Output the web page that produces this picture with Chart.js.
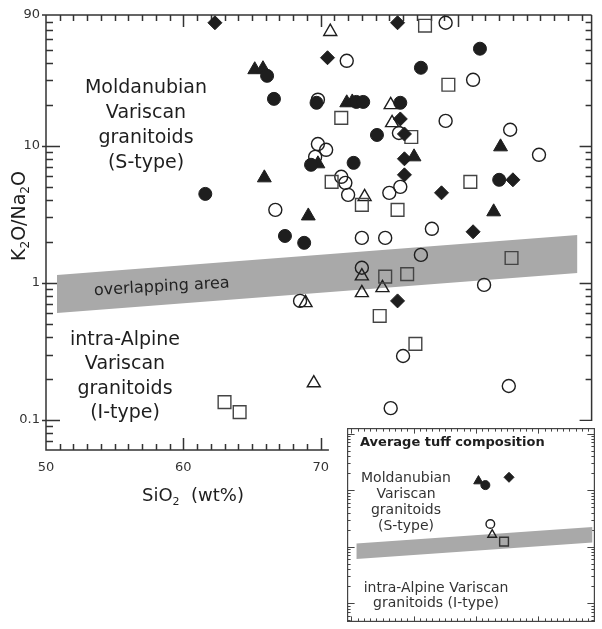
<!DOCTYPE html>
<html>
<head>
<meta charset="utf-8">
<script src="https://cdn.jsdelivr.net/npm/chart.js@4.4.1/dist/chart.umd.min.js"></script>
<style>
  html, body { margin: 0; padding: 0; background: #fff; }
  #wrap { position: relative; width: 602px; height: 629px; }
  #main { position: absolute; left: 0; top: 0; }
  #inset { position: absolute; left: 340px; top: 421px; }
</style>
</head>
<body>
<div id="wrap">
  <canvas id="main" width="602" height="629" style="width:602px;height:629px"></canvas>
  <canvas id="inset" width="262" height="208" style="width:262px;height:208px"></canvas>
</div>
<script>
// SiO2 (wt%), K2O/Na2O pairs
const filledCircles = [[66.1,32.4],[66.6,22.0],[69.7,20.6],[72.6,20.9],[73.1,20.9],[75.8,20.6],[81.6,51.1],[77.3,37.1],
  [74.1,12.0],[69.3,7.27],[72.4,7.51],[61.6,4.46],[83.0,5.65],[67.4,2.20],[68.8,1.96]];
const filledTriangles = [[65.2,35.9],[65.8,36.5],[71.9,20.6],[72.3,20.9],[65.9,5.84],[69.8,7.39],[76.8,8.31],
  [83.1,9.83],[69.1,3.08],[82.6,3.30]];
const filledDiamonds = [[62.3,79.0],[70.5,43.9],[75.6,79.0],[75.8,15.7],[76.1,12.2],[76.1,8.04],[76.1,6.14],
  [78.8,4.54],[84.0,5.65],[81.1,2.36],[75.6,0.739]];
const openCircles = [[71.9,41.7],[79.1,79.0],[81.1,30.3],[69.8,21.7],[79.1,15.2],[75.7,12.4],[83.8,13.1],[85.9,8.60],
  [69.8,10.3],[70.4,9.35],[69.6,8.31],[71.5,5.94],[71.8,5.37],[72.0,4.39],[75.0,4.54],[75.8,5.02],[66.7,3.41],
  [73.0,2.13],[74.7,2.13],[78.1,2.48],[77.3,1.60],[73.0,1.29],[81.9,0.967],[68.5,0.739],[76.0,0.293],[75.1,0.122],[83.7,0.177]];
const openTriangles = [[70.7,68.0],[75.1,19.9],[75.2,14.7],[73.2,4.24],[73.0,1.12],[73.0,0.845],[74.5,0.920],
  [68.9,0.715],[69.5,0.186]];
const openSquares = [[77.6,75.2],[79.3,27.9],[71.5,16.0],[76.6,11.6],[70.8,5.46],[80.9,5.46],[73.0,3.71],[75.6,3.41],
  [83.9,1.52],[76.3,1.16],[74.7,1.11],[74.3,0.574],[76.9,0.359],[63.0,0.135],[64.1,0.114]];

// overlapping area band (upper and lower edge)
const bandTop = [[50.8,1.14],[88.7,2.24]];
const bandBottom = [[50.8,0.604],[88.7,1.18]];

// inset: average tuff composition
const tuffFilledTriangle = [[70.4,14.5]];
const tuffFilledCircle = [[71.5,12.3]];
const tuffDiamond = [[75.3,16.9]];
const tuffOpenCircle = [[72.3,2.52]];
const tuffOpenTriangle = [[72.6,1.63]];
const tuffOpenSquare = [[74.5,1.23]];

const xTicks = [50, 60, 70];
const yTicks = [0.1, 1, 10, 90];

Chart.defaults.font.family = 'DejaVu Sans';
const INK = '#1e1e1e';

const pts = arr => arr.map(([x, y]) => ({ x, y }));

function series(data, style, filled, r, color) {
  return {
    data: pts(data),
    pointStyle: style,
    pointRadius: r,
    pointHoverRadius: r,
    pointBackgroundColor: filled ? color : 'rgba(0,0,0,0)',
    pointBorderColor: color,
    pointBorderWidth: filled ? 1 : 1.4,
    showLine: false,
    clip: false
  };
}

function band(top, bottom) {
  return [
    { data: pts(top), showLine: true, borderWidth: 0, pointRadius: 0, fill: false, order: 10 },
    { data: pts(bottom), showLine: true, borderWidth: 0, pointRadius: 0, fill: '-1',
      backgroundColor: '#a9a9a9', order: 10 }
  ];
}

// text with subscripts: parts = [[text, isSub], ...]
function richText(ctx, parts, x, y, size) {
  const big = size + 'px DejaVu Sans', small = Math.round(size * 0.62) + 'px DejaVu Sans';
  let w = 0;
  parts.forEach(([t, sub]) => { ctx.font = sub ? small : big; w += ctx.measureText(t).width; });
  let cx = x - w / 2;
  ctx.textAlign = 'left';
  ctx.textBaseline = 'middle';
  parts.forEach(([t, sub]) => {
    ctx.font = sub ? small : big;
    ctx.fillText(t, cx, sub ? y + size * 0.32 : y);
    cx += ctx.measureText(t).width;
  });
}

function lines(ctx, list, x, y0, step, font) {
  ctx.font = font;
  ctx.textAlign = 'center';
  ctx.textBaseline = 'middle';
  list.forEach((t, i) => ctx.fillText(t, x, y0 + i * step));
}

const mainFrame = {
  id: 'mainFrame',
  beforeDatasetsDraw(chart) {
    const { ctx, chartArea: a, scales: { x, y } } = chart;
    ctx.save();
    ctx.strokeStyle = '#333';
    ctx.lineWidth = 1.5;
    const xEnd = x.getPixelForValue(70.6);
    ctx.beginPath();
    ctx.moveTo(a.left, a.top); ctx.lineTo(a.right, a.top);
    ctx.moveTo(a.left, a.top); ctx.lineTo(a.left, a.bottom); ctx.lineTo(xEnd, a.bottom);
    ctx.moveTo(a.right, a.top); ctx.lineTo(a.right, a.bottom);
    for (let v = 51; v < x.max; v++) {
      const px = Math.round(x.getPixelForValue(v)) + 0.5;
      const len = v % 10 === 0 ? 12 : 6;
      ctx.moveTo(px, a.top); ctx.lineTo(px, a.top + len);
      if (v <= 70) { ctx.moveTo(px, a.bottom); ctx.lineTo(px, a.bottom - len); }
    }
    ctx.moveTo(a.left - 4, a.top); ctx.lineTo(a.left, a.top);
    for (let d = -2; d <= 1; d++) {
      for (let m = 1; m <= 9; m++) {
        const v = m * Math.pow(10, d);
        if (v <= y.min || v >= y.max) continue;
        const py = Math.round(y.getPixelForValue(v)) + 0.5;
        const major = m === 1;
        ctx.moveTo(a.left - (major ? 4 : 0), py); ctx.lineTo(a.left + (major ? 14 : 7), py);
        ctx.moveTo(a.right, py); ctx.lineTo(a.right - (major ? 12 : 6), py);
      }
    }
    ctx.stroke();

    ctx.fillStyle = INK;
    lines(ctx, ['Moldanubian', 'Variscan', 'granitoids', '(S-type)'], 146, 88, 25, '19px DejaVu Sans');
    lines(ctx, ['intra-Alpine', 'Variscan', 'granitoids', '(I-type)'], 125, 340, 24.5, '19px DejaVu Sans');

    // axis titles
    richText(ctx, [['SiO', false], ['2', true], ['  (wt%)', false]], 193, 496, 18);
    ctx.save();
    ctx.translate(20, 216);
    ctx.rotate(-Math.PI / 2);
    richText(ctx, [['K', false], ['2', true], ['O/Na', false], ['2', true], ['O', false]], 0, 0, 19);
    ctx.restore();
    ctx.restore();
  },
  afterDatasetsDraw(chart) {
    const { ctx } = chart;
    ctx.save();
    ctx.fillStyle = '#222';
    ctx.translate(94, 291);
    ctx.rotate(-3.3 * Math.PI / 180);
    ctx.font = '16px DejaVu Sans';
    ctx.textAlign = 'left';
    ctx.textBaseline = 'middle';
    ctx.fillText('overlapping area', 0, 0);
    ctx.restore();
  }
};

new Chart(document.getElementById('main'), {
  type: 'scatter',
  data: {
    datasets: [
      series(filledCircles, 'circle', true, 6.5, INK),
      series(filledTriangles, 'triangle', true, 8, INK),
      series(filledDiamonds, 'rectRot', true, 7, INK),
      series(openSquares, 'rect', false, 9, '#444'),
      series(openTriangles, 'triangle', false, 7.5, INK),
      series(openCircles, 'circle', false, 6.5, INK),
      ...band(bandTop, bandBottom)
    ]
  },
  options: {
    responsive: false,
    animation: false,
    events: [],
    layout: { padding: { top: 15, right: 1, left: 0, bottom: 0 } },
    plugins: { legend: { display: false }, tooltip: { enabled: false } },
    scales: {
      x: {
        type: 'linear', min: 50, max: 89.73,
        afterBuildTicks: s => { s.ticks = xTicks.map(v => ({ value: v })); },
        afterFit: s => { s.height = 179; },
        grid: { display: false, drawTicks: false }, border: { display: false },
        ticks: { color: '#333', font: { size: 13 }, padding: 10, callback: v => String(v) }
      },
      y: {
        type: 'logarithmic', min: 0.0604, max: 90,
        afterBuildTicks: s => { s.ticks = yTicks.map(v => ({ value: v })); },
        afterFit: s => { s.width = 46; },
        grid: { display: false, drawTicks: false }, border: { display: false },
        ticks: { color: '#333', font: { size: 13 }, padding: 6, callback: v => String(v) }
      }
    }
  },
  plugins: [mainFrame]
});

const insetFrame = {
  id: 'insetFrame',
  beforeDraw(chart) {
    const { ctx, width, height } = chart;
    ctx.save();
    ctx.fillStyle = '#fff';
    ctx.fillRect(0, 0, width, height);
    ctx.restore();
  },
  beforeDatasetsDraw(chart) {
    const { ctx, chartArea: a, scales: { x, y } } = chart;
    ctx.save();
    ctx.strokeStyle = '#444';
    ctx.lineWidth = 1.2;
    ctx.strokeRect(a.left, a.top, a.right - a.left, a.bottom - a.top);
    ctx.lineWidth = 1;
    ctx.beginPath();
    for (let v = Math.ceil(x.min); v < x.max; v++) {
      const px = Math.round(x.getPixelForValue(v)) + 0.5;
      const len = v % 10 === 0 ? 5 : 3;
      ctx.moveTo(px, a.top); ctx.lineTo(px, a.top + len);
      ctx.moveTo(px, a.bottom); ctx.lineTo(px, a.bottom - len);
    }
    for (let d = -2; d <= 2; d++) {
      for (let m = 1; m <= 9; m++) {
        const v = m * Math.pow(10, d);
        if (v <= y.min || v >= y.max) continue;
        const py = Math.round(y.getPixelForValue(v)) + 0.5;
        const len = m === 1 ? 7 : 3;
        ctx.moveTo(a.left, py); ctx.lineTo(a.left + len, py);
        ctx.moveTo(a.right, py); ctx.lineTo(a.right - len, py);
      }
    }
    ctx.stroke();

    ctx.fillStyle = INK;
    ctx.font = 'bold 13px DejaVu Sans';
    ctx.textAlign = 'left';
    ctx.textBaseline = 'middle';
    ctx.fillText('Average tuff composition', 20, 22);
    ctx.fillStyle = '#333';
    lines(ctx, ['Moldanubian', 'Variscan', 'granitoids', '(S-type)'], 66, 57, 16.2, '14px DejaVu Sans');
    lines(ctx, ['intra-Alpine Variscan', 'granitoids (I-type)'], 96, 167, 15.5, '14px DejaVu Sans');
    ctx.restore();
  }
};

new Chart(document.getElementById('inset'), {
  type: 'scatter',
  data: {
    datasets: [
      series(tuffFilledCircle, 'circle', true, 4.5, INK),
      series(tuffFilledTriangle, 'triangle', true, 5.5, INK),
      series(tuffDiamond, 'rectRot', true, 5, INK),
      series(tuffOpenSquare, 'rect', false, 6.2, '#333'),
      series(tuffOpenTriangle, 'triangle', false, 5, INK),
      series(tuffOpenCircle, 'circle', false, 4.3, INK),
      ...band(bandTop, bandBottom)
    ]
  },
  options: {
    responsive: false,
    animation: false,
    events: [],
    layout: { padding: { top: 6, left: 6, right: 4, bottom: 4 } },
    plugins: { legend: { display: false }, tooltip: { enabled: false } },
    scales: {
      x: { type: 'linear', min: 49.4, max: 89.0, display: false },
      y: { type: 'logarithmic', min: 0.0476, max: 123, display: false }
    }
  },
  plugins: [insetFrame]
});
</script>
</body>
</html>
